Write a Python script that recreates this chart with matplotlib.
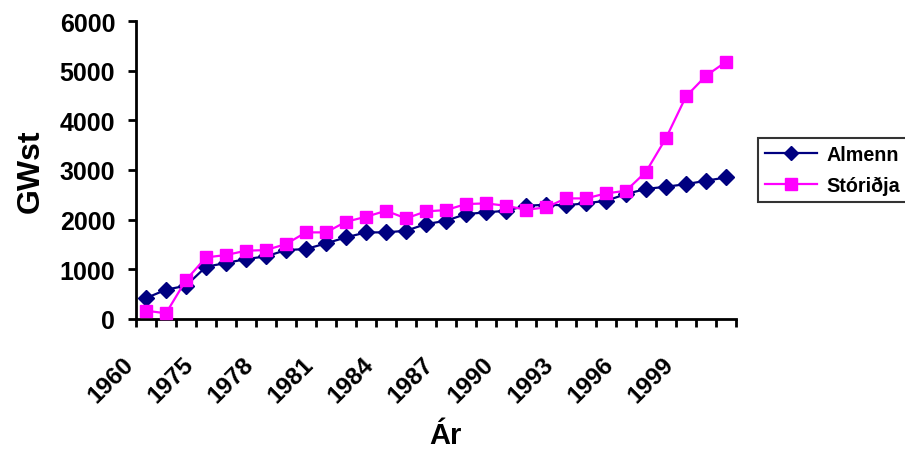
import matplotlib
matplotlib.use("Agg")
import matplotlib.pyplot as plt
import matplotlib.transforms as mtransforms
import numpy as np

years = ["1960", "1965", "1970"] + [str(y) for y in range(1975, 2002)]
almenn = [420, 590, 670, 1052, 1127, 1207, 1260, 1388, 1408, 1523, 1643, 1744,
          1744, 1777, 1911, 1978, 2113, 2147, 2179, 2280, 2300, 2290, 2330, 2380,
          2515, 2620, 2662, 2716, 2783, 2851]
storidja = [167, 115, 785, 1240, 1288, 1375, 1388, 1509, 1744, 1744, 1958, 2058,
            2179, 2026, 2167, 2193, 2314, 2328, 2280, 2199, 2247, 2428, 2428, 2529,
            2582, 2964, 3642, 4481, 4897, 5177]
yticks = [0, 1000, 2000, 3000, 4000, 5000, 6000]

plt.rcParams['font.family'] = ['Liberation Sans', 'DejaVu Sans']
plt.rcParams['font.weight'] = 'bold'

fig = plt.figure(figsize=(9.05, 4.52), dpi=100)
ax = fig.add_axes([136/905, 1-320/452, 600/905, 298/452])

x = np.arange(len(years))
ax.plot(x, almenn, color='#000080', marker='D', markersize=8, linewidth=1.6,
        label='Almenn', clip_on=False, zorder=3)
ax.plot(x, storidja, color='#FF00FF', marker='s', markersize=9, linewidth=1.6,
        label='Stóriðja', clip_on=False, zorder=4)

ax.set_xlim(-0.5, len(years) - 0.5)
ax.set_ylim(0, 6000)
ax.set_yticks(yticks)
ax.set_yticklabels([str(v) for v in yticks], fontsize=18, fontweight='bold')

ax.set_xticks(np.arange(len(years) + 1) - 0.5)
ax.set_xticklabels([])
ax.tick_params(axis='x', which='major', direction='out', length=6, width=2)
ax.tick_params(axis='y', which='major', direction='out', length=6, width=2, pad=9)
lab_idx = list(range(0, len(years) - 2, 3))
ax.set_xticks(lab_idx, minor=True)
ax.set_xticklabels([years[i] for i in lab_idx], minor=True, rotation=45,
                   ha='right', rotation_mode='anchor', fontsize=17.5, fontweight='bold')
ax.tick_params(axis='x', which='minor', length=0, pad=24)
offset = mtransforms.ScaledTranslation(-24/100, 0, fig.dpi_scale_trans)
for lbl in ax.get_xticklabels(minor=True):
    lbl.set_transform(lbl.get_transform() + offset)

for s in ['top', 'right']:
    ax.spines[s].set_visible(False)
for s in ['left', 'bottom']:
    ax.spines[s].set_linewidth(2)

ax.set_ylabel('GWst', fontsize=23, fontweight='bold', labelpad=10)
fig.text(445/905, 1-436/452, 'Ár', fontsize=21, fontweight='bold', ha='center', va='center')

leg = fig.legend(loc='upper left', bbox_to_anchor=(758/905, 1-139/452),
                 frameon=True, fancybox=False, edgecolor='black', fontsize=14.2,
                 handlelength=2.65, borderpad=0.35, labelspacing=0.6, handletextpad=0.45,
                 borderaxespad=0, markerscale=0.9)
leg.get_frame().set_linewidth(1.5)
for t in leg.get_texts():
    t.set_fontweight('bold')

fig.savefig('out.png', dpi=100)
